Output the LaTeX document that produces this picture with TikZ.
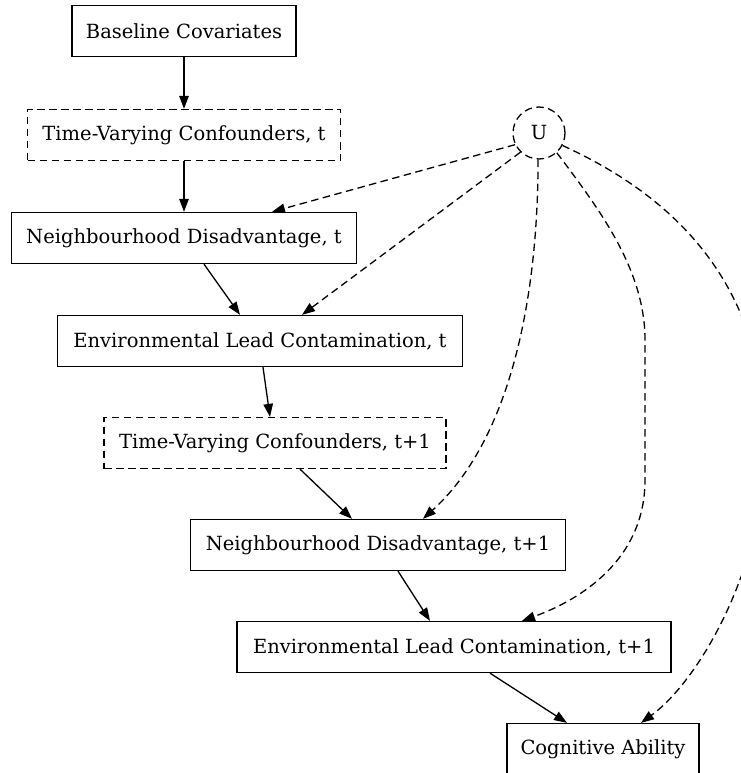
\documentclass[tikz,border=0pt]{standalone}
\usepackage{fontspec}
\setmainfont{DejaVu Serif}
\usetikzlibrary{arrows.meta}
\begin{document}
\begin{tikzpicture}[x=1pt,y=-1pt,
  every node/.style={font=\fontsize{19.5}{23}\selectfont, inner sep=0pt, minimum height=51pt},
  dashes/.style={dash pattern=on 7.5pt off 4.5pt},
  box/.style={draw, line width=1.3pt, rectangle},
  dbox/.style={box, dashes},
  latent/.style={draw, line width=1.3pt, circle, minimum size=52pt, minimum height=52pt, dashes},
  cause/.style={line width=1.3pt, -{Triangle[length=13pt,width=9.5pt]}},
  hidden/.style={cause, dashes}]
\useasboundingbox (0,0) rectangle (740,773);
\fill[white] (0,0) rectangle (740,773);

% observed and latent variables
\node[box,  minimum width=224pt] (bc)   at (184,31)  {Baseline Covariates};
\node[dbox, minimum width=313pt] (tvc0) at (184,135) {Time-Varying Confounders, t};
\node[latent]                    (u)    at (539,133) {U};
\node[box,  minimum width=345pt] (nd0)  at (184,238) {Neighbourhood Disadvantage, t};
\node[box,  minimum width=405pt] (elc0) at (260,341) {Environmental Lead Contamination, t};
\node[dbox, minimum width=342pt] (tvc1) at (275,443) {Time-Varying Confounders, t+1};
\node[box,  minimum width=375pt] (nd1)  at (378,545) {Neighbourhood Disadvantage, t+1};
\node[box,  minimum width=434pt] (elc1) at (454,647) {Environmental Lead Contamination, t+1};
\node[box,  minimum width=192pt] (ca)   at (603,749) {Cognitive Ability};

% causal chain
\draw[cause] (bc.south) -- (tvc0.north);
\draw[cause] (tvc0.south) -- (nd0.north);
\draw[cause] ([xshift=20pt]nd0.south) -- ([xshift=-20pt]elc0.north);
\draw[cause] ([xshift=3pt]elc0.south) -- ([xshift=-5pt]tvc1.north);
\draw[cause] ([xshift=25pt]tvc1.south) -- ([xshift=-26pt]nd1.north);
\draw[cause] ([xshift=20pt]nd1.south) -- ([xshift=-24pt]elc1.north);
\draw[cause] ([xshift=36pt]elc1.south) -- ([xshift=-36pt]ca.north);

% unmeasured confounding
\draw[hidden] (u.206) -- ([xshift=88pt]nd0.north);
\draw[hidden] (u.226) -- ([xshift=42pt]elc0.north);
\draw[hidden] (u.268) .. controls (538,300) and (510,440) .. ([xshift=45pt]nd1.north);
\draw[hidden] (u.-48) .. controls (600,210) and (645,270) .. (645,340)
  -- (645,480) .. controls (645,560) and (580,600) .. ([xshift=68pt]elc1.north);
\draw[hidden] (u.-28) .. controls (660,190) and (760,270) .. (765,430)
  .. controls (770,560) and (700,680) .. ([xshift=38pt]ca.north);
\end{tikzpicture}
\end{document}
